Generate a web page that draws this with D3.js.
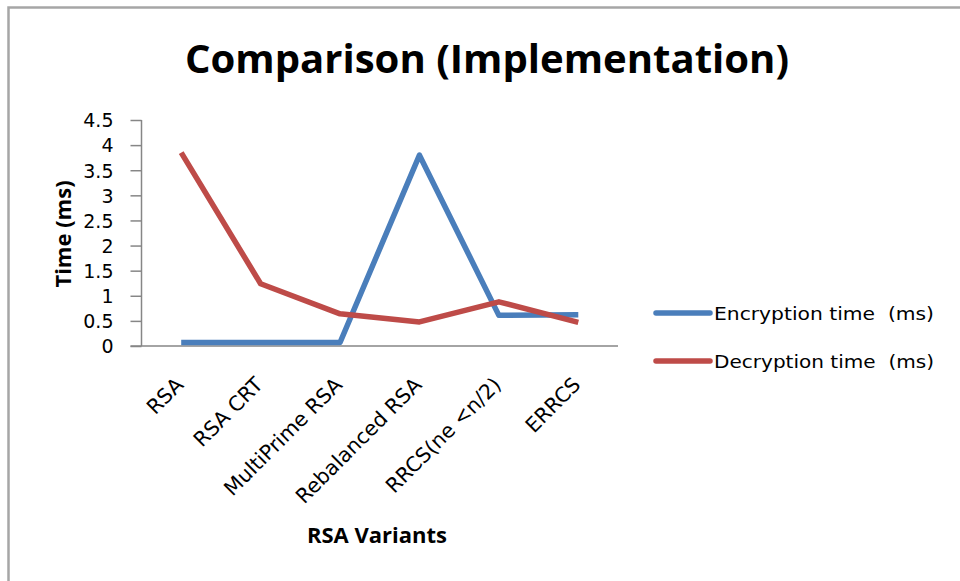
<!DOCTYPE html>
<html>
<head>
<meta charset="utf-8">
<script src="https://cdn.jsdelivr.net/npm/d3@7"></script>
<style>
  html, body { margin: 0; padding: 0; background: #fff; }
  svg { display: block; }
  text { font-family: "DejaVu Sans", sans-serif; fill: #000; }
</style>
</head>
<body>
<svg id="chart" width="960" height="581"></svg>
<script>
// RSA variants and measured times (ms)
const categories = ["RSA", "RSA CRT", "MultiPrime RSA", "Rebalanced RSA", "RRCS(ne <n/2)", "ERRCS"];
const encryptionTimes = [0.07, 0.07, 0.07, 3.8, 0.61, 0.62];
const decryptionTimes = [3.85, 1.24, 0.64, 0.48, 0.88, 0.47];
const yTicks = [0, 0.5, 1, 1.5, 2, 2.5, 3, 3.5, 4, 4.5];
const seriesNames = ["Encryption time  (ms)", "Decryption time  (ms)"];
const seriesColors = ["#4a7ebb", "#be4b48"];

const svg = d3.select("#chart");

// outer chart frame
svg.append("rect")
  .attr("x", 8.5).attr("y", 7.5)
  .attr("width", 1000).attr("height", 1000)
  .attr("fill", "none").attr("stroke", "#a6a6a6").attr("stroke-width", 2.5);

const plot = { left: 141.5, right: 618, top: 120, bottom: 346 };

const x = d3.scalePoint()
  .domain(categories)
  .range([plot.left, plot.right])
  .padding(0.5);

const y = d3.scaleLinear()
  .domain([0, 4.5])
  .range([plot.bottom, plot.top]);

// y axis
const yAxis = svg.append("g")
  .attr("transform", `translate(${plot.left},0)`)
  .call(d3.axisLeft(y).tickValues(yTicks).tickSize(11).tickPadding(17).tickFormat(d3.format("")));
yAxis.selectAll("line, path").attr("stroke", "#868686").attr("stroke-width", 1.5);
yAxis.select(".domain").attr("d", `M0,${plot.top}V${plot.bottom}`);
yAxis.selectAll("text")
  .style("font-family", "'DejaVu Sans', sans-serif")
  .attr("font-size", 19).attr("fill", "#000").attr("dy", "0.36em");

// x axis (baseline only, labels rotated)
const xAxis = svg.append("g")
  .attr("transform", `translate(0,${plot.bottom})`)
  .call(d3.axisBottom(x).tickSize(0).tickPadding(0));
xAxis.select(".domain")
  .attr("d", `M${plot.left - 11},0H${plot.right}`)
  .attr("stroke", "#868686").attr("stroke-width", 1.5);
xAxis.selectAll(".tick text")
  .style("font-family", "'DejaVu Sans', sans-serif")
  .attr("font-size", 20.5).attr("fill", "#000")
  .attr("text-anchor", "end")
  .attr("x", 0).attr("y", 0).attr("dy", 0)
  .attr("transform", "translate(3,40) rotate(-45)");

// series lines
const line = d3.line()
  .x((d, i) => x(categories[i]))
  .y(d => y(d));

[encryptionTimes, decryptionTimes].forEach((vals, k) => {
  svg.append("path")
    .datum(vals)
    .attr("d", line)
    .attr("fill", "none")
    .attr("stroke", seriesColors[k])
    .attr("stroke-width", 5.5)
    .attr("stroke-linejoin", "round");
});

// title
svg.append("text")
  .attr("x", 487).attr("y", 73)
  .attr("text-anchor", "middle")
  .style("font-family", "'Open Sans', sans-serif")
  .attr("font-size", 40).attr("font-weight", "bold")
  .attr("textLength", 604).attr("lengthAdjust", "spacingAndGlyphs")
  .text("Comparison (Implementation)");

// axis titles
svg.append("text")
  .attr("transform", "translate(71,234) rotate(-90)")
  .attr("text-anchor", "middle")
  .style("font-family", "'Open Sans', sans-serif")
  .attr("font-size", 22).attr("font-weight", "bold")
  .text("Time (ms)");

svg.append("text")
  .attr("x", 377).attr("y", 543)
  .attr("text-anchor", "middle")
  .style("font-family", "'Open Sans', sans-serif")
  .attr("font-size", 22).attr("font-weight", "bold")
  .text("RSA Variants");

// legend
const legend = svg.append("g");
seriesNames.forEach((name, k) => {
  const ly = 313 + k * 48;
  legend.append("line")
    .attr("x1", 656).attr("x2", 710)
    .attr("y1", ly).attr("y2", ly)
    .attr("stroke", seriesColors[k]).attr("stroke-width", 5.5)
    .attr("stroke-linecap", "round");
  legend.append("text")
    .attr("x", 714).attr("y", ly)
    .attr("dy", "0.36em")
    .attr("font-size", 18.5)
    .attr("textLength", 220).attr("lengthAdjust", "spacingAndGlyphs")
    .attr("xml:space", "preserve")
    .style("white-space", "pre")
    .text(name);
});
</script>
</body>
</html>
